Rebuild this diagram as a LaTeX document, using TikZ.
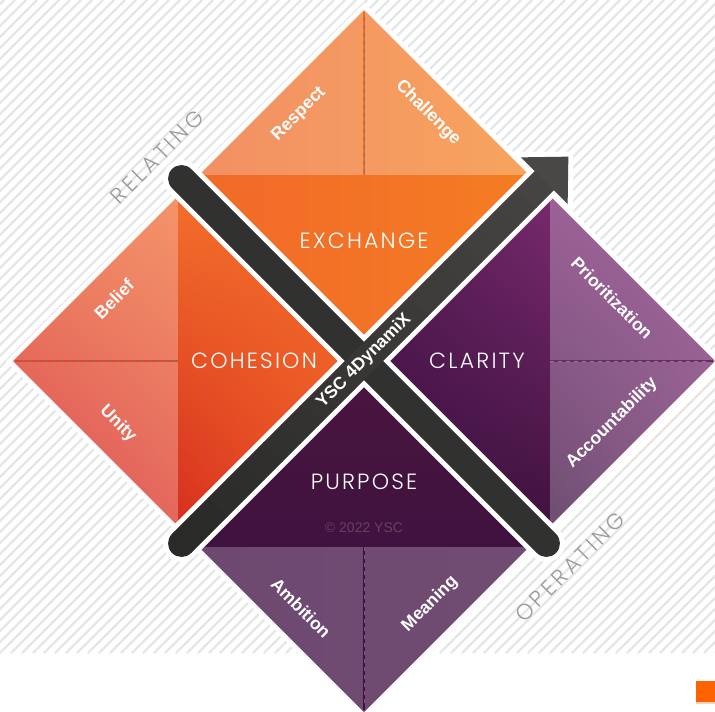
\documentclass[tikz,border=0pt]{standalone}
\usepackage{fontspec}
\usetikzlibrary{shadings}
\setmainfont{Liberation Sans}
\newfontfamily\thinfont[LetterSpace=10]{Poppins Light}
\newfontfamily\widefont[LetterSpace=16]{Poppins Light}

% palette
\definecolor{hatchgrey}{HTML}{E6E6E6}
\definecolor{sidegrey}{HTML}{9B9B9B}
\definecolor{exLightA}{HTML}{F29064}
\definecolor{exLightB}{HTML}{F7A45E}
\definecolor{exDarkA}{HTML}{F2692A}
\definecolor{exDarkB}{HTML}{F47D22}
\definecolor{exDiv}{HTML}{EE6A2A}
\definecolor{coLightUL}{HTML}{F0875F}
\definecolor{coLightUR}{HTML}{F4946A}
\definecolor{coLightLL}{HTML}{DA4A55}
\definecolor{coLightLR}{HTML}{E4685C}
\definecolor{coDarkUL}{HTML}{F36F2B}
\definecolor{coDarkUR}{HTML}{F26C2A}
\definecolor{coDarkLL}{HTML}{D62F1E}
\definecolor{coDarkLR}{HTML}{EC5626}
\definecolor{coDiv}{HTML}{E3472A}
\definecolor{clDarkUL}{HTML}{5B1D57}
\definecolor{clDarkUR}{HTML}{782A6E}
\definecolor{clDarkLL}{HTML}{3A1140}
\definecolor{clDarkLR}{HTML}{40123F}
\definecolor{clLightUL}{HTML}{9C6197}
\definecolor{clLightUR}{HTML}{A2679C}
\definecolor{clLightLL}{HTML}{6E4E72}
\definecolor{clLightLR}{HTML}{8F5E8A}
\definecolor{clDiv}{HTML}{6B2A63}
\definecolor{puDarkA}{HTML}{48153F}
\definecolor{puDarkB}{HTML}{40123F}
\definecolor{puLightA}{HTML}{6D4870}
\definecolor{puLightB}{HTML}{714C72}
\definecolor{puDiv}{HTML}{3D1140}
\definecolor{dashgrey}{HTML}{777777}
\definecolor{dashpurple}{HTML}{8C7A8C}
\definecolor{barDark}{HTML}{2A2A28}
\definecolor{barLight}{HTML}{4A4846}
\definecolor{barMid}{HTML}{313130}
\definecolor{copyc}{HTML}{65415F}
\definecolor{squareorange}{HTML}{FF6200}
\definecolor{squarepale}{HTML}{FBD3B8}

\begin{document}
\begin{tikzpicture}[x=1pt,y=-1pt,
  hatch/.style={draw=hatchgrey,line width=2.2pt},
  sublabel/.style={text=white,font=\fontsize{17.5}{18}\selectfont\bfseries,inner sep=0pt},
  mainlabel/.style={text=white,font=\thinfont\fontsize{22}{23}\selectfont,inner sep=0pt},
  sidelabel/.style={text=sidegrey,font=\widefont\fontsize{22}{23}\selectfont,inner sep=0pt},
  divider/.style={line width=2pt},
  dashline/.style={line width=1pt,dash pattern=on 4pt off 4pt},
  halo/.style={draw=white,line width=37pt,line cap=round},
  bar/.style={line width=27pt},
]
\useasboundingbox (0,0) rectangle (715,712);
\fill[white] (0,0) rectangle (715,712);

% striped backdrop
\begin{scope}
  \clip (0,0) rectangle (715,653);
  \foreach \s in {-660,-649,...,720}
    \draw[hatch] (\s,653) -- ++(653,-653);
\end{scope}

% ---------- EXCHANGE (top) ----------
\begin{scope}[shift={(364,175)}]
  \fill[white] (0,-172) -- (172,0) -- (0,172) -- (-172,0) -- cycle;
  \shade[left color=exLightA,right color=exLightB] (-165,0) -- (0,-165) -- (165,0) -- cycle;
  \shade[left color=exDarkA,right color=exDarkB] (-165,0) -- (165,0) -- (0,165) -- cycle;
  \draw[divider,draw=exDiv] (0,-163) -- (0,0);
  \draw[dashline,draw=dashgrey] (0,-158) -- (0,0);
\end{scope}

% ---------- COHESION (left) ----------
\begin{scope}[shift={(178,361)}]
  \fill[white] (0,-172) -- (172,0) -- (0,172) -- (-172,0) -- cycle;
  \shade[upper left=coLightUL,upper right=coLightUR,lower left=coLightLL,lower right=coLightLR]
    (-165,0) -- (0,-165) -- (0,165) -- cycle;
  \shade[upper left=coDarkUL,upper right=coDarkUR,lower left=coDarkLL,lower right=coDarkLR]
    (0,-165) -- (165,0) -- (0,165) -- cycle;
  \draw[divider,draw=coDiv] (-163,0) -- (0,0);
  \draw[dashline,draw=dashgrey] (-158,0) -- (0,0);
\end{scope}

% ---------- CLARITY (right) ----------
\begin{scope}[shift={(550,361)}]
  \fill[white] (0,-172) -- (172,0) -- (0,172) -- (-172,0) -- cycle;
  \shade[upper left=clDarkUL,upper right=clDarkUR,lower left=clDarkLL,lower right=clDarkLR]
    (-165,0) -- (0,-165) -- (0,165) -- cycle;
  \shade[upper left=clLightUL,upper right=clLightUR,lower left=clLightLL,lower right=clLightLR]
    (0,-165) -- (165,0) -- (0,165) -- cycle;
  \draw[divider,draw=clDiv] (0,0) -- (163,0);
  \draw[dashline,draw=dashpurple] (0,0) -- (158,0);
\end{scope}

% ---------- PURPOSE (bottom) ----------
\begin{scope}[shift={(364,547)}]
  \fill[white] (0,-172) -- (172,0) -- (0,172) -- (-172,0) -- cycle;
  \shade[top color=puDarkA,bottom color=puDarkB] (-165,0) -- (0,-165) -- (165,0) -- cycle;
  \shade[left color=puLightA,right color=puLightB] (-165,0) -- (165,0) -- (0,165) -- cycle;
  \draw[divider,draw=puDiv] (0,0) -- (0,163);
  \draw[dashline,draw=dashpurple!70!puDiv] (0,0) -- (0,158);
\end{scope}

% ---------- quadrant labels ----------
\node[mainlabel] (exchange) at (364,241) {EXCHANGE};
\node[mainlabel] (cohesion) at (254,361) {COHESION};
\node[mainlabel] (clarity)  at (477,361) {CLARITY};
\node[mainlabel] (purpose)  at (364,482) {PURPOSE};
\node[text=copyc,font=\fontsize{14}{14}\selectfont,inner sep=0pt] (copy) at (364,528) {© 2022 YSC};

\node[sublabel,rotate=45]  (respect)   at (299,114) {Respect};
\node[sublabel,rotate=-45] (challenge) at (428,113) {Challenge};
\node[sublabel,rotate=45]  (belief)    at (114,299) {Belief};
\node[sublabel,rotate=-45] (unity)     at (118,424) {Unity};
\node[sublabel,rotate=-45] (prior)     at (612,298) {Prioritization};
\node[sublabel,rotate=45]  (account)   at (612,423) {Accountability};
\node[sublabel,rotate=-45] (ambition)  at (301,608) {Ambition};
\node[sublabel,rotate=45]  (meaning)   at (430,604) {Meaning};

% ---------- crossing bars ----------
\begin{scope}[shift={(364,361)},rotate=45]
  % white outlines
  \draw[halo] (0,-258) -- (0,258);
  \draw[halo] (-258,0) -- (250,0);
  \filldraw[white,line width=10pt,line join=miter] (256,-33) -- (289,0) -- (256,33) -- cycle;
  % falling bar
  \draw[bar,draw=barMid,line cap=round] (0,-258) -- (0,258);
  % rising bar with arrow, darker at its tail
  \fill[barDark] (-258,0) circle (13.5);
  \foreach \i in {0,...,19}{
    \pgfmathsetmacro{\pa}{-258+\i*25.7}
    \pgfmathsetmacro{\pb}{\pa+26.7}
    \pgfmathsetmacro{\pc}{\i*4.5}
    \draw[bar,draw=barLight!\pc!barDark] (\pa,0) -- (\pb,0);
  }
  \fill[barLight] (255,-33) -- (289,0) -- (255,33) -- cycle;
\end{scope}
\node[text=white,font=\fontsize{17.5}{18}\selectfont\bfseries,rotate=45,inner sep=0pt] (brand) at (364,361) {YSC 4DynamiX};

% ---------- axis captions ----------
\node[sidelabel,rotate=45] (relating)  at (157,157) {RELATING};
\node[sidelabel,rotate=45] (operating) at (570,567) {OPERATING};

% corner mark
\fill[squareorange] (696,681) rectangle (715,702);
\fill[squarepale] (696,702) rectangle (715,703.5);
\end{tikzpicture}
\end{document}
